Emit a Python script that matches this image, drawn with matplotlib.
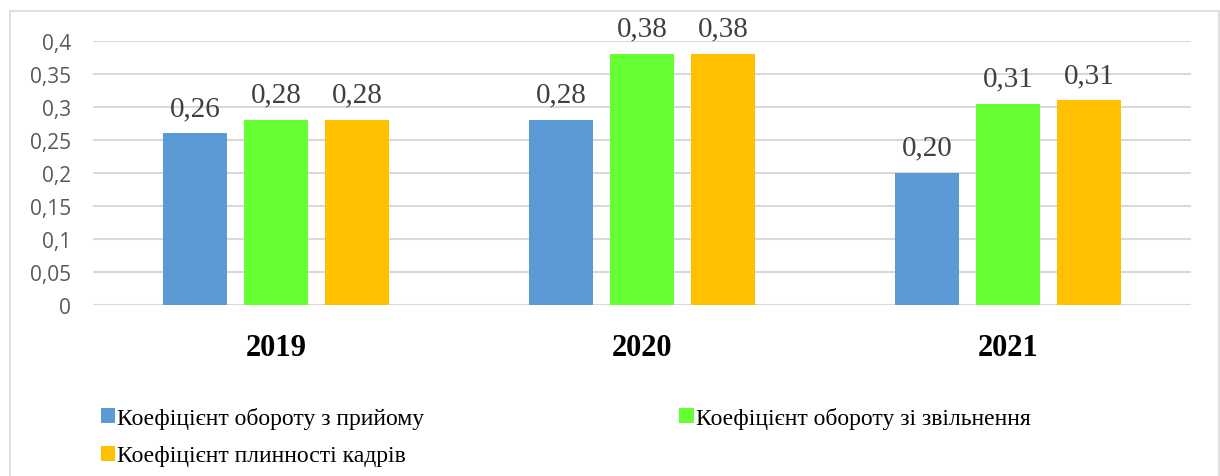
import numpy as np
import matplotlib.pyplot as plt
from matplotlib import patches
from matplotlib.font_manager import FontProperties

years = ["2019", "2020", "2021"]
hire = [0.26, 0.28, 0.20]
dismiss = [0.28, 0.38, 0.305]
fluid = [0.28, 0.38, 0.31]
hire_lbl = ["0,26", "0,28", "0,20"]
dismiss_lbl = ["0,28", "0,38", "0,31"]
fluid_lbl = ["0,28", "0,38", "0,31"]
names = ["Коефіцієнт обороту з прийому",
         "Коефіцієнт обороту зі звільнення",
         "Коефіцієнт плинності кадрів"]
colors = ["#5B9BD5", "#66FF33", "#FFC000"]

fig = plt.figure(figsize=(12.2, 4.77), dpi=100)
ax = fig.add_axes([93/1220, 1-306/477, 1098/1220, 264/477])

# outer chart border
fig.patches.append(patches.Rectangle((10/1220, -0.1), 1209/1220, 1.1-12/477,
                                     transform=fig.transFigure, fill=False,
                                     edgecolor="#D9D9D9", linewidth=1.2))

x = np.arange(len(years))
w = 0.175
step = 0.221
series = [(hire, hire_lbl), (dismiss, dismiss_lbl), (fluid, fluid_lbl)]
handles = []
for i, (vals, lbls) in enumerate(series):
    bars = ax.bar(x + (i-1)*step, vals, w, color=colors[i], zorder=3, label=names[i])
    ax.bar_label(bars, labels=lbls, padding=9, fontsize=21, color="#404040",
                 family="Liberation Serif")
    handles.append(bars)

ax.set_xlim(-0.5, 2.5)
ax.set_ylim(0, 0.4)
ax.set_yticks(np.arange(0, 0.401, 0.05))
ax.set_yticklabels(["0", "0,05", "0,1", "0,15", "0,2", "0,25", "0,3", "0,35", "0,4"])
ax.set_xticks(x)
ax.set_xticklabels(years, fontsize=22, fontweight="bold", family="Liberation Serif")
ax.tick_params(axis="y", length=0, pad=16, labelsize=15, labelcolor="#595959")
ax.tick_params(axis="x", length=0, pad=20)
for lab in ax.get_yticklabels():
    lab.set_family("Open Sans")
ax.grid(axis="y", color="#D9D9D9", linewidth=1.5, zorder=0)
for s in ax.spines.values():
    s.set_visible(False)

legfont = FontProperties(family="Liberation Serif", size=17)
leg = fig.legend([handles[0], handles[2], handles[1]], [names[0], names[2], names[1]],
                 ncol=2, loc="upper left", bbox_to_anchor=(89/1220, 1-396/477),
                 frameon=False, prop=legfont,
                 handlelength=0.6, handleheight=0.6, handletextpad=0.1,
                 columnspacing=10.8, labelspacing=0.7, borderpad=0)

fig.savefig("out.png", dpi=100)
